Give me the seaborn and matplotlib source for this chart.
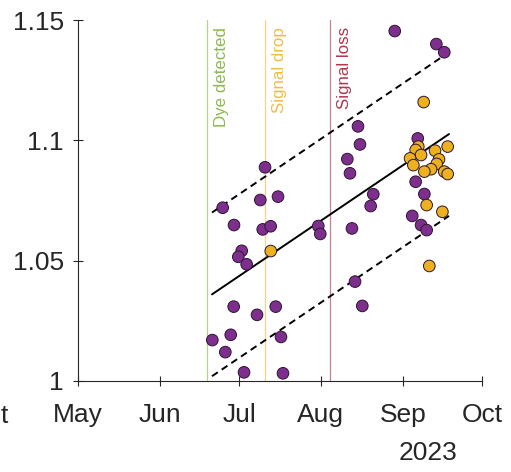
import matplotlib
matplotlib.use("Agg")
import matplotlib.pyplot as plt
import matplotlib.dates as mdates
from matplotlib.transforms import offset_copy
import numpy as np
import pandas as pd
import seaborn as sns

# Ratio measurements, before the signal drop (purple) and after it (orange)
purple_dates = [
    "2023-07-10 20:00", "2023-06-24 19:00", "2023-07-09 01:00", "2023-07-15 18:00",
    "2023-06-29 02:00", "2023-07-09 23:00", "2023-07-12 23:00", "2023-07-31 00:00",
    "2023-07-31 18:00", "2023-07-02 00:00", "2023-06-30 17:00", "2023-07-03 21:00",
    "2023-06-28 23:00", "2023-07-07 19:00", "2023-07-14 21:00", "2023-06-20 21:00",
    "2023-06-27 20:00", "2023-07-16 21:00", "2023-06-25 19:00", "2023-07-02 21:00",
    "2023-07-17 15:00", "2023-08-28 23:00", "2023-09-13 17:00", "2023-09-16 17:00",
    "2023-08-15 01:00", "2023-09-06 16:00", "2023-08-15 19:00", "2023-08-11 00:00",
    "2023-08-12 00:00", "2023-08-20 20:00", "2023-08-19 20:00", "2023-08-12 18:00",
    "2023-09-05 21:00", "2023-09-09 04:00", "2023-09-04 14:00", "2023-09-07 22:00",
    "2023-09-10 01:00", "2023-08-13 22:00", "2023-08-16 16:00",
]
purple_values = [
    1.0888, 1.0720, 1.0752, 1.0766,
    1.0648, 1.0630, 1.0643, 1.0644,
    1.0611, 1.0541, 1.0516, 1.0485,
    1.0309, 1.0275, 1.0309, 1.0170,
    1.0192, 1.0183, 1.0120, 1.0036,
    1.0032, 1.1454, 1.1400, 1.1366,
    1.1058, 1.1008, 1.0983, 1.0922,
    1.0863, 1.0776, 1.0727, 1.0634,
    1.0828, 1.0777, 1.0686, 1.0648,
    1.0627, 1.0413, 1.0312,
]
orange_dates = [
    "2023-07-13 00:00", "2023-09-08 22:00", "2023-09-06 21:00", "2023-09-05 21:00",
    "2023-09-07 22:00", "2023-09-03 18:00", "2023-09-05 00:00", "2023-09-13 05:00",
    "2023-09-18 00:00", "2023-09-14 17:00", "2023-09-13 20:00", "2023-09-11 17:00",
    "2023-09-09 04:00", "2023-09-16 17:00", "2023-09-18 00:00", "2023-09-10 01:00",
    "2023-09-16 00:00", "2023-09-11 01:00",
]
orange_values = [
    1.0540, 1.1159, 1.0974, 1.0960,
    1.0939, 1.0925, 1.0897, 1.0957,
    1.0974, 1.0921, 1.0902, 1.0880,
    1.0870, 1.0870, 1.0860, 1.0731,
    1.0703, 1.0478,
]

# Linear trend with its ±band
fit_dates = ["2023-06-20 18:00", "2023-09-18 12:00"]
fit_values = [1.0360, 1.1026]
band_halfwidth = 0.034

# Event markers
event_labels = ["Dye detected", "Signal drop", "Signal loss"]
event_dates = ["2023-06-18 20:00", "2023-07-10 19:00", "2023-08-04 06:00"]
event_colors = ["#77AC30", "#EDB120", "#A2142F"]

month_ticks = ["2023-05-01", "2023-06-01", "2023-07-01", "2023-08-01",
               "2023-09-01", "2023-10-01"]
y_ticks = [1.0, 1.05, 1.1, 1.15]
y_tick_labels = ["1", "1.05", "1.1", "1.15"]

df = pd.DataFrame({
    "date": pd.to_datetime(purple_dates + orange_dates),
    "ratio": purple_values + orange_values,
    "phase": ["before"] * len(purple_values) + ["after"] * len(orange_values),
})

sns.set_style("ticks")
plt.rcParams["font.family"] = ["Liberation Sans", "DejaVu Sans"]
ink = "#262626"

fig = plt.figure(figsize=(5.11, 4.72), dpi=100)
ax = fig.add_axes([78 / 511, 1 - 381 / 472, 404 / 511, 361 / 472])

# event lines and their labels
label_tf = offset_copy(ax.get_xaxis_transform(), fig=fig, x=10.8, y=-5, units="points")
for lab, d, c in zip(event_labels, event_dates, event_colors):
    xd = pd.Timestamp(d)
    ax.axvline(xd, color=c, lw=0.9, alpha=0.55, zorder=1)
    ax.text(xd, 1.0, lab, transform=label_tf, rotation=90, ha="center",
            va="top", color=c, fontsize=12.2, alpha=0.85)

# trend line and band
fx = pd.to_datetime(fit_dates)
fy = np.array(fit_values)
ax.plot(fx, fy, color="black", lw=1.4, zorder=2)
for sgn in (1, -1):
    ax.plot(fx, fy + sgn * band_halfwidth, color="black", lw=1.4,
            linestyle=(0, (3.6, 2.4)), zorder=2)

sns.scatterplot(data=df, x="date", y="ratio", hue="phase",
                palette={"before": "#7E2F8E", "after": "#EDB120"},
                s=70, edgecolor="#2b1630", linewidth=0.7, legend=False,
                zorder=3, ax=ax)

ax.set_xlim(pd.Timestamp(month_ticks[0]), pd.Timestamp(month_ticks[-1]))
ax.set_ylim(y_ticks[0], y_ticks[-1])
ax.set_xticks(pd.to_datetime(month_ticks))
ax.xaxis.set_major_formatter(mdates.DateFormatter("%b"))
ax.set_yticks(y_ticks)
ax.set_yticklabels(y_tick_labels)
ax.set_xlabel("")
ax.set_ylabel("")
sns.despine(ax=ax)
for sp in ("left", "bottom"):
    ax.spines[sp].set_color(ink)
    ax.spines[sp].set_linewidth(0.8)
ax.tick_params(axis="both", direction="inout", length=6.5, width=0.8,
               colors=ink, labelsize=19)
ax.tick_params(axis="x", pad=12.5)
ax.tick_params(axis="y", pad=7)

fig.text(428 / 511, 1 - 460 / 472, "2023", ha="center", va="baseline",
         fontsize=19, color=ink)
# tail of the neighbouring panel's last month label
fig.text(8 / 511, 1 - 423 / 472, "t", ha="right", va="baseline",
         fontsize=19, color=ink)

fig.savefig("out.png", dpi=100)
